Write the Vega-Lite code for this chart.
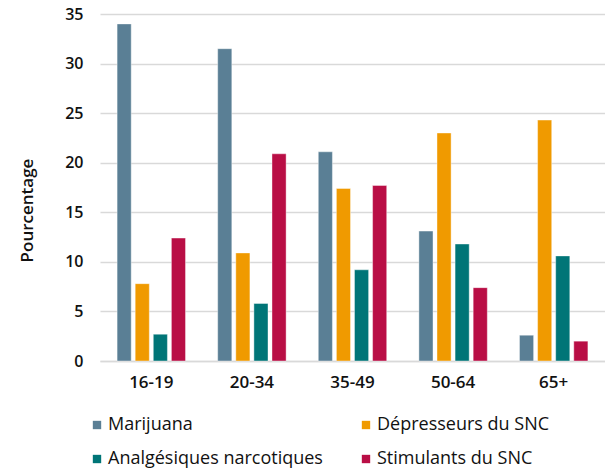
{
  "$schema": "https://vega.github.io/schema/vega-lite/v6.json",
  "autosize": {"type": "none"},
  "padding": {"left": 100, "top": 14, "right": 0, "bottom": 109},
  "width": 505,
  "height": 347,
  "background": "white",
  "config": {
    "view": {"stroke": null},
    "font": "Open Sans",
    "axis": {"labelFont": "Open Sans", "labelColor": "#111111", "titleColor": "#111111"}
  },
  "data": {
    "values": [
      {"age": "16-19", "drogue": "Marijuana", "pct": 34.0},
      {"age": "16-19", "drogue": "Dépresseurs du SNC", "pct": 7.8},
      {"age": "16-19", "drogue": "Analgésiques narcotiques", "pct": 2.7},
      {"age": "16-19", "drogue": "Stimulants du SNC", "pct": 12.4},
      {"age": "20-34", "drogue": "Marijuana", "pct": 31.5},
      {"age": "20-34", "drogue": "Dépresseurs du SNC", "pct": 10.9},
      {"age": "20-34", "drogue": "Analgésiques narcotiques", "pct": 5.8},
      {"age": "20-34", "drogue": "Stimulants du SNC", "pct": 20.9},
      {"age": "35-49", "drogue": "Marijuana", "pct": 21.1},
      {"age": "35-49", "drogue": "Dépresseurs du SNC", "pct": 17.4},
      {"age": "35-49", "drogue": "Analgésiques narcotiques", "pct": 9.2},
      {"age": "35-49", "drogue": "Stimulants du SNC", "pct": 17.7},
      {"age": "50-64", "drogue": "Marijuana", "pct": 13.1},
      {"age": "50-64", "drogue": "Dépresseurs du SNC", "pct": 23.0},
      {"age": "50-64", "drogue": "Analgésiques narcotiques", "pct": 11.8},
      {"age": "50-64", "drogue": "Stimulants du SNC", "pct": 7.4},
      {"age": "65+", "drogue": "Marijuana", "pct": 2.6},
      {"age": "65+", "drogue": "Dépresseurs du SNC", "pct": 24.3},
      {"age": "65+", "drogue": "Analgésiques narcotiques", "pct": 10.6},
      {"age": "65+", "drogue": "Stimulants du SNC", "pct": 2.0}
    ]
  },
  "mark": {"type": "bar", "stroke": "white", "strokeWidth": 0.8, "strokeOpacity": 0.5},
  "encoding": {
    "x": {
      "field": "age",
      "type": "nominal",
      "sort": null,
      "scale": {"paddingInner": 0.32, "paddingOuter": 0.17},
      "axis": {
        "title": null,
        "labelAngle": 0,
        "labelFontSize": 17,
        "labelFontWeight": 600,
        "labelPadding": 13,
        "ticks": false,
        "domainColor": "#d9d9d9",
        "domainWidth": 1.5
      }
    },
    "xOffset": {
      "field": "drogue",
      "type": "nominal",
      "sort": ["Marijuana", "Dépresseurs du SNC", "Analgésiques narcotiques", "Stimulants du SNC"],
      "scale": {"paddingInner": 0.22, "paddingOuter": 0}
    },
    "y": {
      "field": "pct",
      "type": "quantitative",
      "scale": {"domain": [0, 35]},
      "axis": {
        "title": "Pourcentage",
        "titleFontSize": 17,
        "titleFontWeight": 600,
        "titlePadding": 28,
        "titleY": 196,
        "values": [0, 5, 10, 15, 20, 25, 30, 35],
        "labelFontSize": 16,
        "labelFontWeight": 600,
        "labelPadding": 17,
        "ticks": false,
        "domain": false,
        "gridColor": "#d9d9d9",
        "gridWidth": 1.5
      }
    },
    "color": {
      "field": "drogue",
      "type": "nominal",
      "sort": ["Marijuana", "Dépresseurs du SNC", "Analgésiques narcotiques", "Stimulants du SNC"],
      "scale": {
        "domain": ["Marijuana", "Dépresseurs du SNC", "Analgésiques narcotiques", "Stimulants du SNC"],
        "range": ["#5a7f95", "#f09a00", "#007577", "#b90e45"]
      },
      "legend": {
        "title": null,
        "orient": "none",
        "legendX": -12,
        "legendY": 402,
        "columns": 2,
        "direction": "horizontal",
        "padding": 0,
        "columnPadding": 34,
        "rowPadding": 16,
        "symbolType": "square",
        "symbolSize": 70,
        "symbolStrokeWidth": 0,
        "labelFontSize": 18,
        "labelFontWeight": 500,
        "labelColor": "#111111",
        "labelOffset": 2,
        "labelLimit": 300
      }
    }
  }
}
